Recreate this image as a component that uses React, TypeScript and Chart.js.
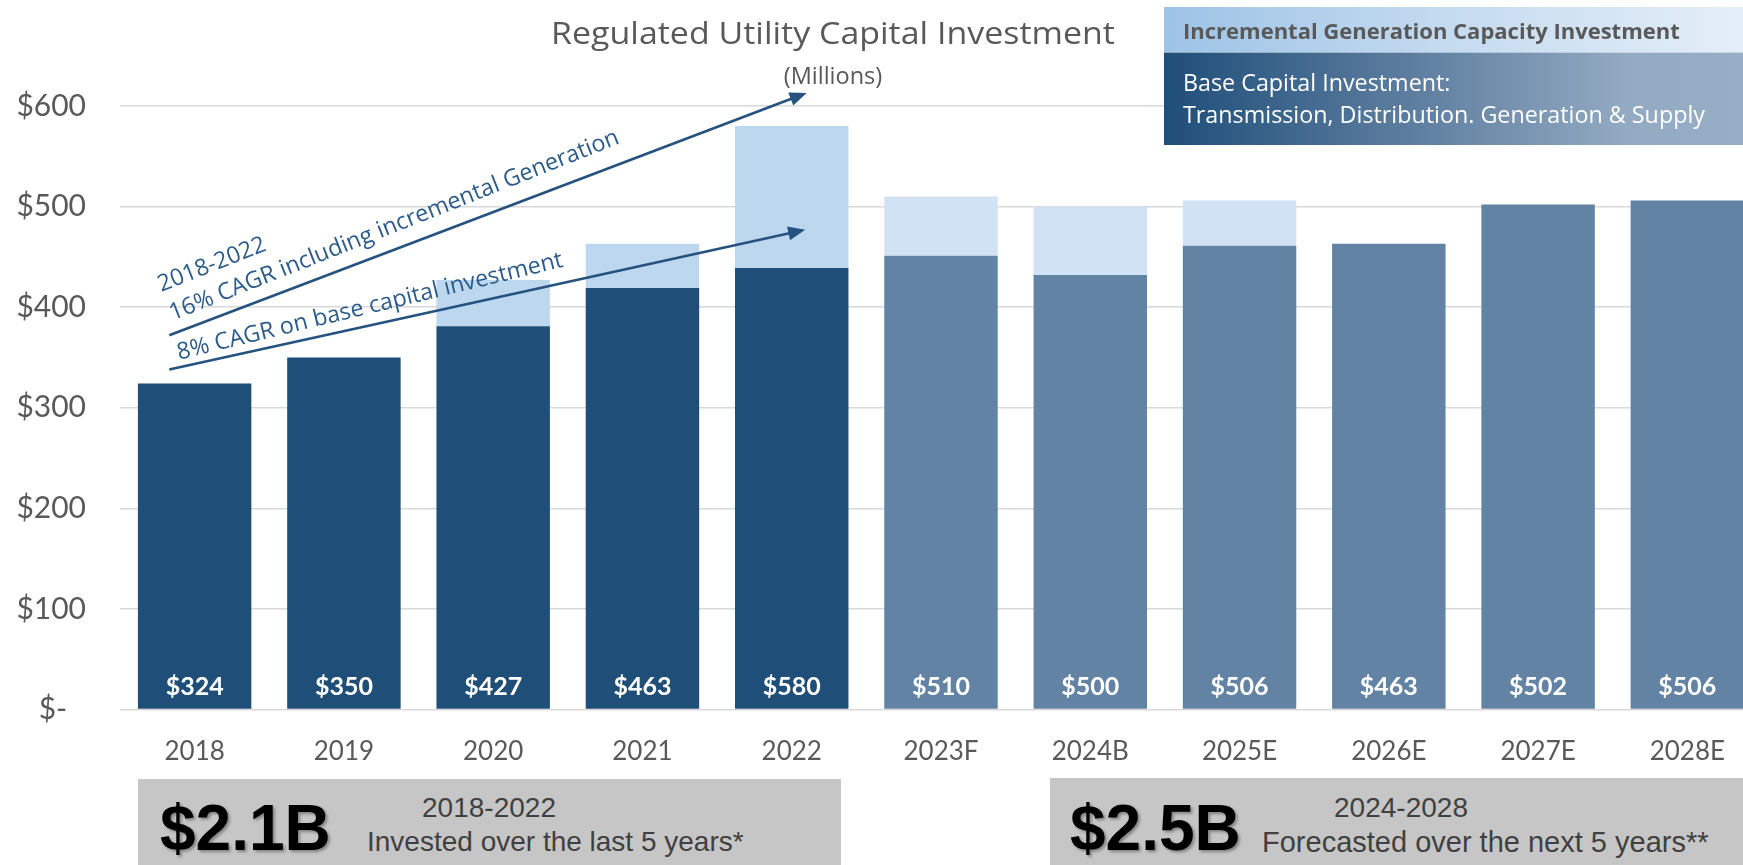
import React, { useEffect, useRef } from "react";
import { Chart, registerables } from "chart.js";

Chart.register(...registerables);

// ---------- data ----------
const categories = ["2018", "2019", "2020", "2021", "2022", "2023F", "2024B", "2025E", "2026E", "2027E", "2028E"];
const baseInvestment = [324, 350, 381, 419, 439, 451, 432, 461, 463, 502, 506];
const incrementalGeneration = [0, 0, 46, 44, 141, 59, 68, 45, 0, 0, 0];
const totalLabels = ["$324", "$350", "$427", "$463", "$580", "$510", "$500", "$506", "$463", "$502", "$506"];
const yMin = 0;
const yMax = 600;
const yStep = 100;

// annotation arrows in data space: [category index, value]
const cagrArrows = [
  { from: [-0.17, 372], to: [4.1, 613], lines: ["2018-2022", "16% CAGR including incremental Generation"] },
  { from: [-0.17, 338], to: [4.09, 477], lines: ["8% CAGR on base capital investment"] },
];

// ---------- styles ----------
const HIST_BASE = "#1F4E79";
const FCST_BASE = "#6283A3";
const HIST_INC = "#BDD7EE";
const FCST_INC = "#D0E2F3";
const AXIS_TEXT = "#595959";
const ARROW_COLOR = "#25527F";
const ARROW_TEXT = "#2C5C8C";
const CAL = "Lato, 'Open Sans', sans-serif";
const SEG = "'Open Sans', Lato, sans-serif";
const ARIAL = "'Liberation Sans', Arial, sans-serif";
// text placement for each arrow: along offset, perpendicular gap, extra tilt (deg), line spacing
const arrowTextStyle = [
  { along: 8.4, gap: 12.6, tilt: 0.8, spacing: 30.7 },
  { along: 11.7, gap: 7.5, tilt: 1.2, spacing: 30.7 },
];

const isForecast = (i: number) => /[A-Z]$/.test(categories[i]);

const valueLabelPlugin = {
  id: "valueLabels",
  afterDatasetsDraw(chart: any) {
    const { ctx } = chart;
    const y = chart.scales.y;
    const meta = chart.getDatasetMeta(0);
    ctx.save();
    ctx.font = `bold 25px ${CAL}`;
    ctx.fillStyle = "#ffffff";
    ctx.textAlign = "center";
    ctx.textBaseline = "middle";
    meta.data.forEach((bar: any, i: number) => {
      ctx.fillText(totalLabels[i], bar.x, y.getPixelForValue(0) - 23);
    });
    ctx.restore();
  },
};

const arrowPlugin = {
  id: "cagrArrows",
  afterDraw(chart: any) {
    const { ctx } = chart;
    const xs = chart.scales.x;
    const ys = chart.scales.y;
    cagrArrows.forEach((a, idx) => {
      const st = arrowTextStyle[idx];
      const x0 = xs.getPixelForValue(a.from[0]);
      const y0 = ys.getPixelForValue(a.from[1]);
      const x1 = xs.getPixelForValue(a.to[0]);
      const y1 = ys.getPixelForValue(a.to[1]);
      const ang = Math.atan2(y1 - y0, x1 - x0);
      const c = Math.cos(ang);
      const s = Math.sin(ang);
      const headLen = 17;
      const headW = 7;
      const bx = x1 - headLen * c;
      const by = y1 - headLen * s;
      ctx.save();
      ctx.strokeStyle = ARROW_COLOR;
      ctx.fillStyle = ARROW_COLOR;
      ctx.lineWidth = 2.6;
      ctx.beginPath();
      ctx.moveTo(x0, y0);
      ctx.lineTo(bx + 2 * c, by + 2 * s);
      ctx.stroke();
      ctx.beginPath();
      ctx.moveTo(x1, y1);
      ctx.lineTo(bx - headW * s, by + headW * c);
      ctx.lineTo(bx + headW * s, by - headW * c);
      ctx.closePath();
      ctx.fill();
      ctx.translate(x0, y0);
      ctx.rotate(ang);
      ctx.translate(st.along, -st.gap);
      ctx.rotate((-st.tilt * Math.PI) / 180);
      ctx.font = `23.3px ${SEG}`;
      ctx.fillStyle = ARROW_TEXT;
      ctx.textAlign = "left";
      ctx.textBaseline = "alphabetic";
      const n = a.lines.length;
      a.lines.forEach((t, k) => {
        ctx.fillText(t, 0, -(n - 1 - k) * st.spacing);
      });
      ctx.restore();
    });
  },
};

export default function App() {
  const ref = useRef<HTMLCanvasElement>(null);

  useEffect(() => {
    const canvas = ref.current;
    if (!canvas) return;
    const chart = new Chart(canvas, {
      type: "bar",
      data: {
        labels: categories,
        datasets: [
          {
            label: "Base Capital Investment",
            data: baseInvestment,
            backgroundColor: (ctx: any) => (isForecast(ctx.dataIndex) ? FCST_BASE : HIST_BASE),
            stack: "s",
            barPercentage: 0.76,
            categoryPercentage: 1,
          },
          {
            label: "Incremental Generation Capacity Investment",
            data: incrementalGeneration,
            backgroundColor: (ctx: any) => (isForecast(ctx.dataIndex) ? FCST_INC : HIST_INC),
            stack: "s",
            barPercentage: 0.76,
            categoryPercentage: 1,
          },
        ],
      },
      options: {
        responsive: false,
        animation: false,
        layout: { padding: { top: 106, left: 0, right: 8, bottom: 0 } },
        plugins: {
          legend: { display: false },
          tooltip: { enabled: false },
          title: { display: false },
        },
        scales: {
          x: {
            stacked: true,
            grid: { display: false },
            border: { display: false },
            ticks: { color: AXIS_TEXT, font: { family: CAL, size: 26 }, padding: 19 },
            afterFit: (s: any) => {
              s.height = 155.5;
            },
          },
          y: {
            stacked: true,
            min: yMin,
            max: yMax,
            grid: { color: "#D9D9D9", lineWidth: 1.5, drawTicks: false },
            border: { display: false },
            ticks: {
              stepSize: yStep,
              color: AXIS_TEXT,
              font: { family: CAL, size: 30 },
              padding: 34,
              callback: (v: any) => (Number(v) === 0 ? "$-\u2002\u2009" : "$" + v),
            },
            afterFit: (s: any) => {
              s.width = 120;
            },
          },
        },
      },
      plugins: [valueLabelPlugin, arrowPlugin],
    } as any);
    return () => chart.destroy();
  }, []);

  const abs = (o: React.CSSProperties): React.CSSProperties => ({ position: "absolute", whiteSpace: "nowrap", lineHeight: 1, ...o });

  return (
    <div style={{ position: "absolute", left: 0, top: 0, width: 1743, height: 865, overflow: "hidden", background: "#fff" }}>
      <canvas ref={ref} width={1770} height={865} style={{ position: "absolute", left: 0, top: 0, display: "block" }} />

      <div style={abs({ left: 833, top: 16.8, transform: "translateX(-50%) scaleX(1.095)", fontFamily: SEG, fontSize: 31, color: AXIS_TEXT })}>
        Regulated Utility Capital Investment
      </div>
      <div style={abs({ left: 833, top: 64, transform: "translateX(-50%)", fontFamily: SEG, fontSize: 23.5, color: AXIS_TEXT })}>
        (Millions)
      </div>

      {/* legend */}
      <div style={abs({ left: 1164, top: 7, width: 579, height: 45, background: "linear-gradient(to right, #9DC3E6 0%, #C5DBF0 50%, #E4EEF8 100%)" })} />
      <div style={abs({ left: 1164, top: 52, width: 579, height: 93, borderTop: "1px solid rgba(255,255,255,0.5)", boxSizing: "border-box", background: "linear-gradient(to right, #1F4E79 0%, #6886A6 50%, #93AAC2 80%, #97AFC6 100%)" })} />
      <div style={abs({ left: 1183, top: 18.8, fontFamily: SEG, fontWeight: 700, fontSize: 22, color: AXIS_TEXT })}>
        Incremental Generation Capacity Investment
      </div>
      <div style={abs({ left: 1183, top: 71, fontFamily: SEG, fontSize: 23.3, color: "#ffffff" })}>
        Base Capital Investment:
      </div>
      <div style={abs({ left: 1183, top: 102.6, fontFamily: SEG, fontSize: 23.3, color: "#ffffff" })}>
        Transmission, Distribution. Generation &amp; Supply
      </div>

      {/* bottom summary boxes */}
      <div style={abs({ left: 138, top: 779, width: 703, height: 86, background: "#C6C6C6" })} />
      <div style={abs({ left: 1050, top: 778, width: 693, height: 87, background: "#C6C6C6" })} />

      <div style={abs({ left: 160, top: 796, fontFamily: ARIAL, fontWeight: 700, fontSize: 64, color: "#000", textShadow: "2px 2px 3px rgba(0,0,0,0.35)" })}>
        $2.1B
      </div>
      <div style={abs({ left: 489, top: 793.5, transform: "translateX(-50%)", fontFamily: ARIAL, fontSize: 28, color: "#404040" })}>
        2018-2022
      </div>
      <div style={abs({ left: 367, top: 828, fontFamily: ARIAL, fontSize: 28, color: "#404040" })}>
        Invested over the last 5 years*
      </div>

      <div style={abs({ left: 1070, top: 796, fontFamily: ARIAL, fontWeight: 700, fontSize: 64, color: "#000", textShadow: "2px 2px 3px rgba(0,0,0,0.35)" })}>
        $2.5B
      </div>
      <div style={abs({ left: 1401, top: 794, transform: "translateX(-50%)", fontFamily: ARIAL, fontSize: 28, color: "#404040" })}>
        2024-2028
      </div>
      <div style={abs({ left: 1262, top: 827.5, fontFamily: ARIAL, fontSize: 29, color: "#404040" })}>
        Forecasted over the next 5 years**
      </div>
    </div>
  );
}
